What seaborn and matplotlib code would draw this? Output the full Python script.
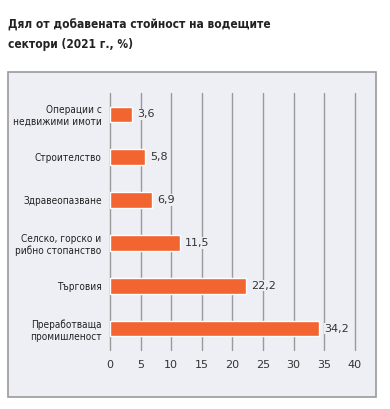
import matplotlib.pyplot as plt
import matplotlib.patches as mpatches
import pandas as pd
import seaborn as sns

# Данни
sectors = ["Операции с\nнедвижими имоти", "Строителство", "Здравеопазване",
           "Селско, горско и\nрибно стопанство", "Търговия", "Преработваща\nпромишленост"]
shares = [3.6, 5.8, 6.9, 11.5, 22.2, 34.2]
x_ticks = [0, 5, 10, 15, 20, 25, 30, 35, 40]

df = pd.DataFrame({"sector": sectors, "share": shares})

sns.set_theme(style="white")
plt.rcParams['font.family'] = ['DejaVu Sans']

fig = plt.figure(figsize=(3.9, 4.09), dpi=100)
fig.patch.set_facecolor("white")

# сив панел зад графиката
panel = mpatches.Rectangle((0.0205, 0.029), 0.944, 0.795, transform=fig.transFigure,
                           facecolor="#EEEFF5", edgecolor="#9A9A9A", linewidth=1.2, zorder=-5)
fig.patches.append(panel)

fig.text(0.02, 0.955, "Дял от добавената стойност на водещите\nсектори (2021 г., %)",
         fontsize=8.6, fontweight="bold", fontstretch="condensed", color="#222222",
         ha="left", va="top", linespacing=1.65)

ax = fig.add_axes([0.282, 0.144, 0.628, 0.629])
ax.set_facecolor("none")
sns.barplot(data=df, x="share", y="sector", color="#F26430", width=0.36,
            saturation=1, ax=ax, zorder=3)

ax.set_xlim(0, 40)
ax.set_ylim(5.5, -0.5)
ax.set_xticks(x_ticks)
ax.set_xticklabels([str(t) for t in x_ticks], fontsize=8, color="#333333")
ax.set_yticks(range(len(sectors)))
ax.set_yticklabels(sectors, fontsize=7.2, fontstretch="condensed", color="#222222")
ax.tick_params(axis="both", length=0, pad=7)
ax.tick_params(axis="y", pad=6)
for t in x_ticks:
    ax.axvline(t, color="#9A9A9A", linewidth=1, zorder=1, clip_on=False)
for s in ax.spines.values():
    s.set_visible(False)
ax.set_xlabel("")
ax.set_ylabel("")

for i, v in enumerate(shares):
    ax.text(v + 0.8, i, f"{v:.1f}".replace(".", ","), va="center", ha="left",
            fontsize=8, color="#333333", zorder=4,
            bbox=dict(facecolor="#EEEFF5", edgecolor="none", pad=0.5))

fig.savefig("out.png", dpi=100)
